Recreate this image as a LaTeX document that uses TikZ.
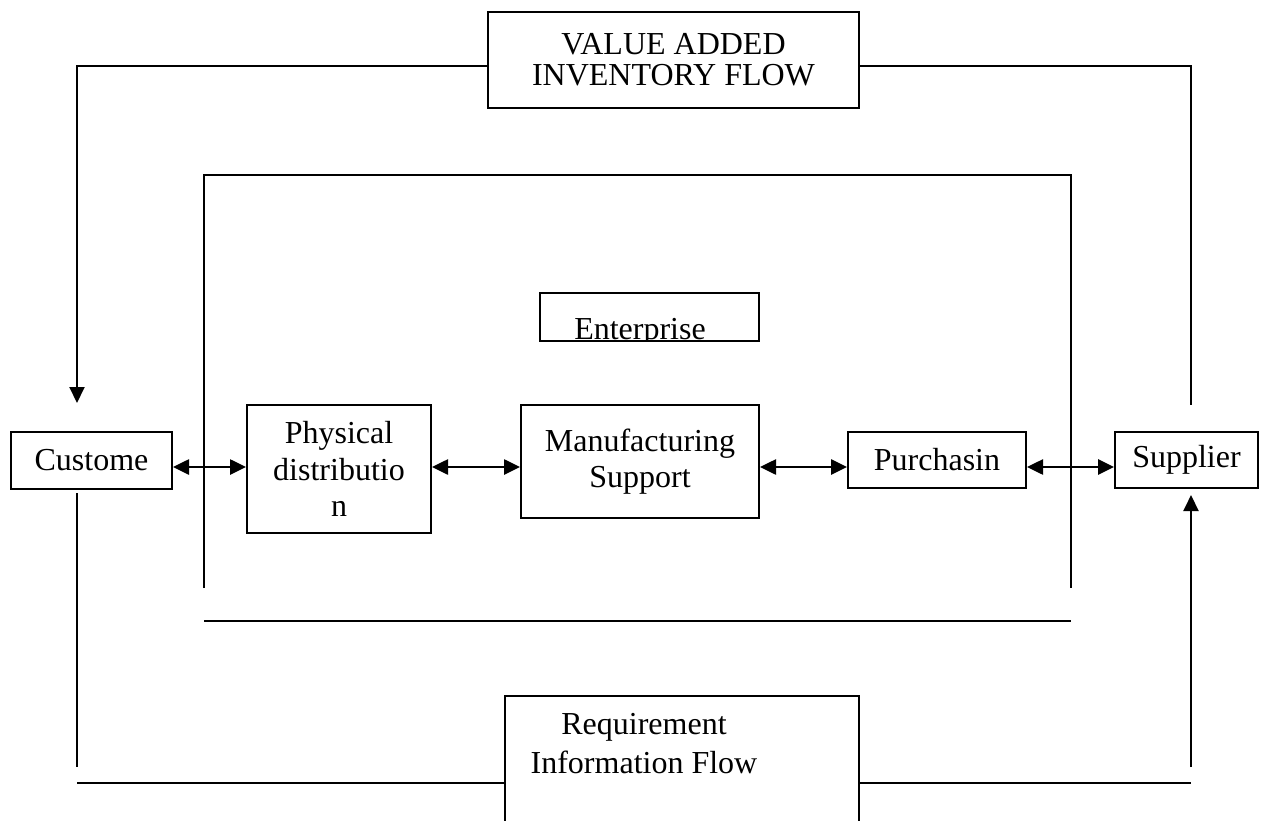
\documentclass[tikz,border=0pt]{standalone}
\usepackage{fontspec}
\setmainfont{Liberation Serif}
\usetikzlibrary{arrows.meta}

\begin{document}
\begin{tikzpicture}[
  x=1pt, y=-1pt,
  line width=2pt,
  every node/.style={font=\fontsize{32}{36.7}\selectfont, align=center, inner sep=0pt},
  box/.style={draw, rectangle},
  link/.style={line width=2.6pt, {Triangle[length=16pt,width=15pt]}-{Triangle[length=16pt,width=15pt]}},
  flow/.style={-{Triangle[length=16pt,width=15pt]}}
]
\clip (0,0) rectangle (1268,821);

%--- Flow boxes ---
\node[box, minimum width=371, minimum height=96,
      font=\fontsize{32}{30.7}\selectfont] (value) at (673.5,60) {VALUE ADDED\\INVENTORY FLOW};
\node[box, minimum width=354, minimum height=250] (reqbox) at (682,821) {};
\node[font=\fontsize{32}{39}\selectfont] (reqtxt) at (644,744) {Requirement\\Information Flow};

%--- Enterprise frame ---
\draw (204,588) -- (204,175) -- (1071,175) -- (1071,588);
\draw (204,621) -- (1071,621);
\begin{scope}
  \clip (540,293) rectangle (759,341);
  \node[anchor=base] (enttxt) at (640,339) {Enterprise};
\end{scope}
\node[box, minimum width=219, minimum height=48] (ent) at (649.5,317) {};

%--- Chain ---
\node[box, minimum width=161, minimum height=57]  (cust) at (91.5,460.5) {Custome};
\node[box, minimum width=184, minimum height=128] (phys) at (339,469)    {Physical\\distributio\\n};
\node[box, minimum width=238, minimum height=113] (manu) at (640,461.5)  {Manufacturing\\Support};
\node[box, minimum width=178, minimum height=56]  (purch) at (937,460)   {Purchasin};
\node[box, minimum width=143, minimum height=56]  (supp) at (1186.5,460) {Supplier};

\coordinate (row) at (0,467);
\draw[link] (cust.east |- row)  -- (phys.west |- row);
\draw[link] (phys.east |- row)  -- (manu.west |- row);
\draw[link] (manu.east |- row)  -- (purch.west |- row);
\draw[link] (purch.east |- row) -- (supp.west |- row);

%--- Top loop ---
\coordinate (tl) at (77,66);
\coordinate (tr) at (1191,66);
\coordinate (custin) at (77,403);
\coordinate (suppout) at (1191,405);
\draw[flow] (value.west |- tl) -- (tl) -- (custin);
\draw (value.east |- tr) -- (tr) -- (suppout);

%--- Bottom loop ---
\coordinate (custout) at (77,493);
\coordinate (bl) at (77,767);
\coordinate (bbl) at (77,783);
\coordinate (br) at (1191,767);
\coordinate (bbr) at (1191,783);
\coordinate (suppin) at (1191,495);
\draw (custout) -- (bl);
\draw (bbl) -- (reqbox.west |- bbl);
\draw (reqbox.east |- bbr) -- (bbr);
\draw[flow] (br) -- (suppin);

\end{tikzpicture}
\end{document}
